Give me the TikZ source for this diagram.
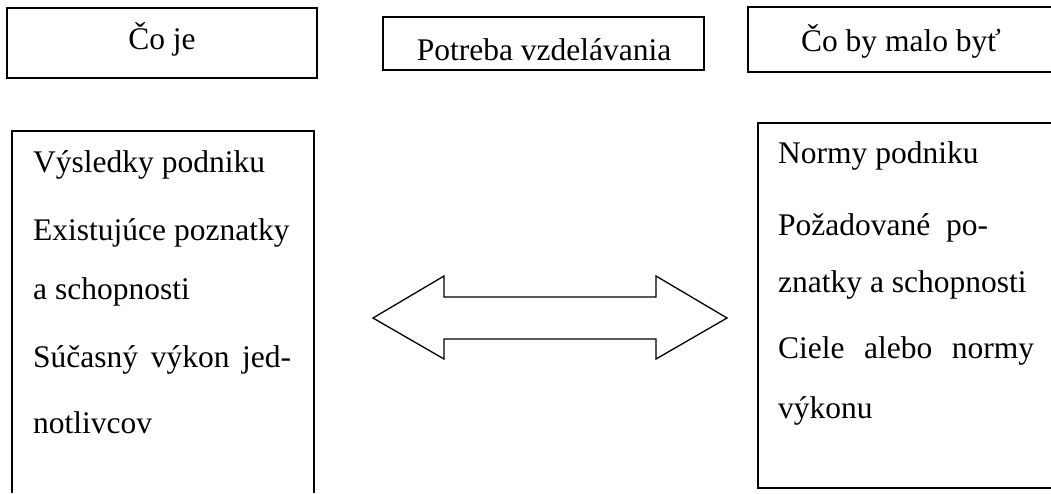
\documentclass[tikz,border=0pt]{standalone}
\usepackage{fontspec}
\setmainfont{Liberation Serif}
\begin{document}
\begin{tikzpicture}[x=1pt,y=-1pt,
  topbox/.style={draw=black, line width=2pt, rectangle, inner sep=0pt},
  topline/.style={draw=black, line width=2pt, line join=miter},
  bigline/.style={draw=black, line width=1.7pt, line join=miter},
  txt/.style={inner sep=0pt, font=\fontsize{31.5}{36}\selectfont, anchor=base},
  ltxt/.style={inner sep=0pt, font=\fontsize{31.5}{36}\selectfont, anchor=base west},
  blockarrow/.style={draw=black, line width=1.3pt, line join=miter}
]
\useasboundingbox (0,0) rectangle (1051,493);
\fill[white] (0,0) rectangle (1051,493);

% top boxes
\node[topbox, minimum width=310pt, minimum height=70pt] (coje) at (162,43) {};
\node[txt] (cojet) at (162,49.5) {Čo je};
\node[topbox, minimum width=321pt, minimum height=53pt] (potreba) at (543.5,43.5) {};
\node[txt] (potrebat) at (544,60) {Potreba vzdelávania};
\coordinate (maloNE) at (1051,7);
\coordinate (maloNW) at (748,7);
\coordinate (maloSW) at (748,72);
\coordinate (maloSE) at (1051,72);
\draw[topline] (maloNE) -- (maloNW) -- (maloSW) -- (maloSE);
\node[txt] (malot) at (901,51) {Čo by malo byť};

% big boxes (open edges run off the picture)
\coordinate (lboxSW) at (12,493);
\coordinate (lboxNW) at (12,131);
\coordinate (lboxNE) at (314,131);
\coordinate (lboxSE) at (314,493);
\draw[bigline] (lboxSW) -- (lboxNW) -- (lboxNE) -- (lboxSE);
\coordinate (rboxNE) at (1051,123);
\coordinate (rboxNW) at (758,123);
\coordinate (rboxSW) at (758,488);
\coordinate (rboxSE) at (1051,488);
\draw[bigline] (rboxNE) -- (rboxNW) -- (rboxSW) -- (rboxSE);

% left texts
\node[ltxt] (l1) at (33,172) {Výsledky podniku};
\node[ltxt] (l2) at (33,240) {Existujúce poznatky};
\node[ltxt] (l3) at (33,299) {a schopnosti};
\node[ltxt] (l4) at (33,367) {\makebox[258pt][s]{Súčasný výkon jed-}};
\node[ltxt] (l5) at (33,433) {notlivcov};

% right texts
\node[ltxt] (r1) at (778,163) {Normy podniku};
\node[ltxt] (r2) at (778,235) {\makebox[210pt][s]{Požadované po-}};
\node[ltxt] (r3) at (778,292) {znatky a schopnosti};
\node[ltxt] (r4) at (778,358) {\makebox[256pt][s]{Ciele alebo normy}};
\node[ltxt] (r5) at (778,418) {výkonu};

% double block arrow
\draw[blockarrow] (373,318) -- (444,276) -- (444,297) -- (656,297) -- (656,276)
  -- (727,318) -- (656,359) -- (656,339) -- (444,339) -- (444,359) -- cycle;
\end{tikzpicture}
\end{document}
